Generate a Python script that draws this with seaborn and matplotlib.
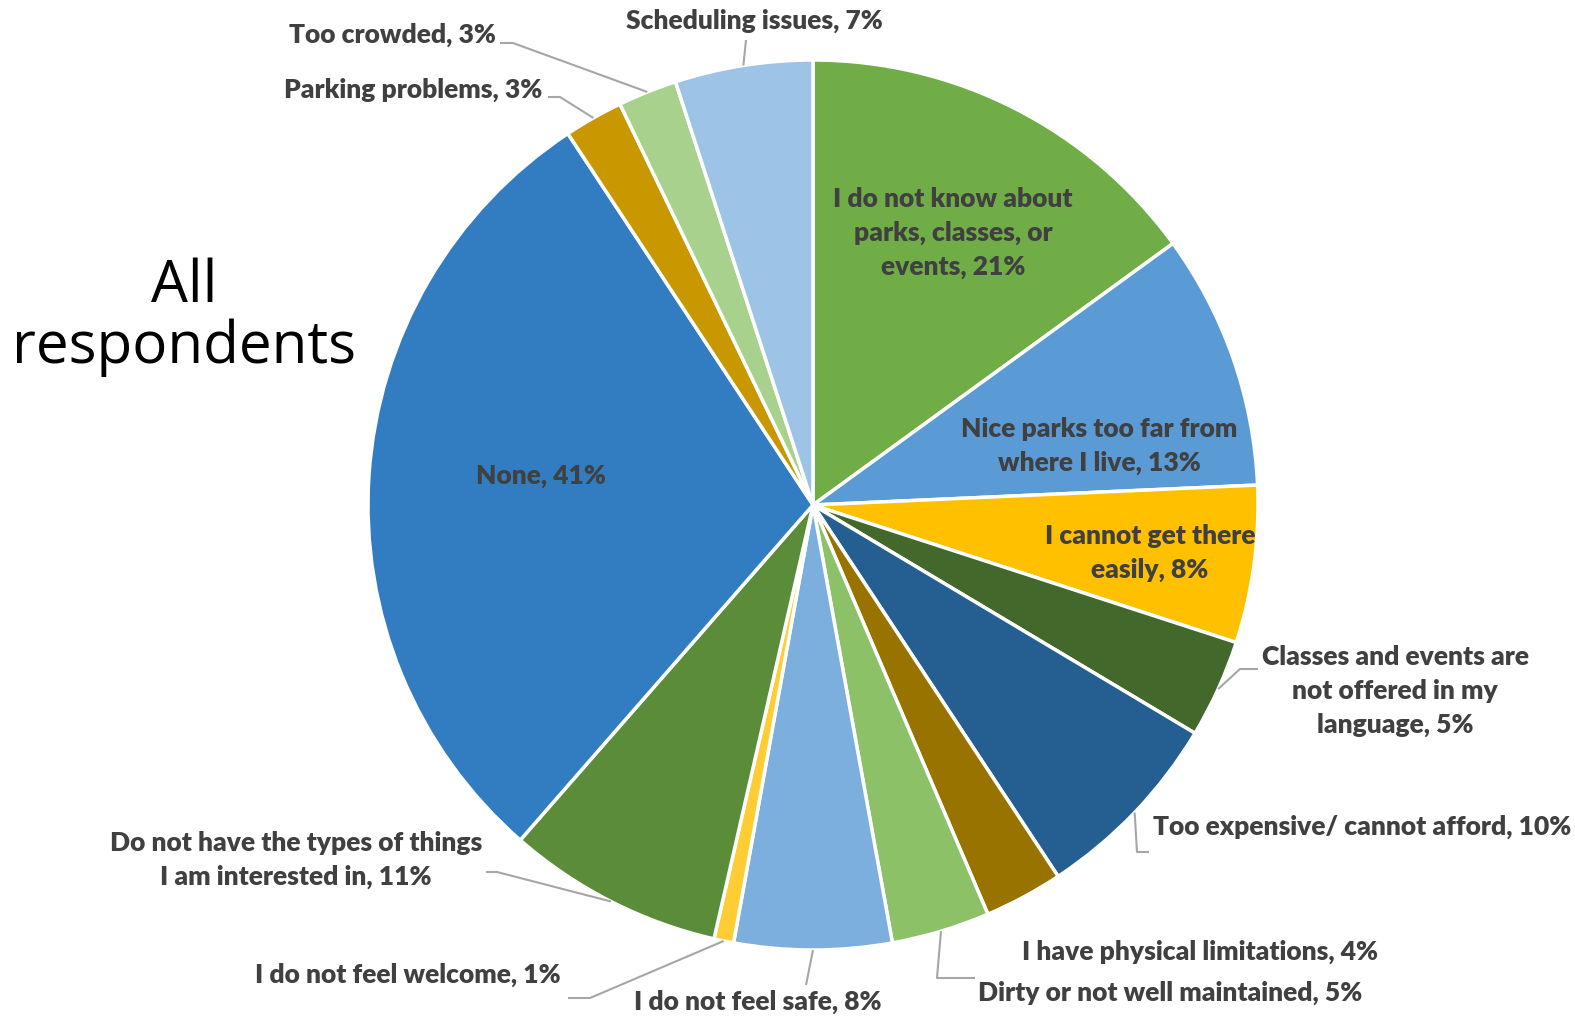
import numpy as np
import matplotlib
matplotlib.use("Agg")
import matplotlib.pyplot as plt
import seaborn as sns

# survey data (multi-select, so slices are relative shares of all mentions)
labels = ["I do not know about\nparks, classes, or\nevents, 21%",
          "Nice parks too far from\nwhere I live, 13%",
          "I cannot get there\neasily, 8%",
          "Classes and events are\nnot offered in my\nlanguage, 5%",
          "Too expensive/ cannot afford, 10%",
          "I have physical limitations, 4%",
          "Dirty or not well maintained, 5%",
          "I do not feel safe, 8%",
          "I do not feel welcome, 1%",
          "Do not have the types of things\nI am interested in, 11%",
          "None, 41%",
          "Parking problems, 3%",
          "Too crowded, 3%",
          "Scheduling issues, 7%"]
values = [21, 13, 8, 5, 10, 4, 5, 8, 1, 11, 41, 3, 3, 7]
colors = ["#70AD47", "#5B9BD5", "#FFC000", "#43682B", "#255E91", "#997300",
          "#8CC168", "#7CAFDD", "#FFCD33", "#5B8C3A", "#327DC2", "#C99700",
          "#A9D18E", "#9DC3E6"]

W, H = 1575, 1021
CX, CY, R = 813, 505, 445

sns.set_theme(style="white")
plt.rcParams["font.family"] = ["Lato", "DejaVu Sans"]

fig = plt.figure(figsize=(W / 100, H / 100), dpi=100)
ax = fig.add_axes([0, 0, 1, 1])

wedges, _ = ax.pie(values, colors=colors, startangle=90, counterclock=False,
                   center=(CX, H - CY), radius=R,
                   wedgeprops=dict(edgecolor="white", linewidth=2.5))
ax.set_xlim(0, W)
ax.set_ylim(0, H)
ax.set_aspect("equal")
ax.axis("off")

txt = dict(color="#404040", fontsize=19, fontweight="heavy",
           linespacing=1.5)
lc = "#A6A6A6"

# label position (pixel, from top), alignment, leader path after the wedge point
place = [
    ((953, 233), "center", None),
    ((1099, 446), "center", None),
    ((1150, 553), "center", None),
    ((1395, 691), "center", [(1240, 669), (1258, 669)]),
    ((1153, 827), "left", [(1137, 852), (1149, 852)]),
    ((1200, 952), "center", None),
    ((1170, 993), "center", [(937, 978), (975, 978)]),
    ((758, 1002), "center", [(806, 985)]),
    ((408, 975), "center", [(590, 998), (568, 998)]),
    ((296, 860), "center", [(497, 872), (486, 872)]),
    ((541, 476), "center", None),
    ((413, 90), "center", [(560, 97), (548, 97)]),
    ((392, 35), "center", [(513, 43), (500, 43)]),
    ((754, 21), "center", [(746, 40)]),
]

for w, lab, (pos, ha, path) in zip(wedges, labels, place):
    ax.text(pos[0], H - pos[1], lab, ha=ha, va="center", **txt)
    if path:
        mid = np.deg2rad((w.theta1 + w.theta2) / 2)
        sx = CX + R * np.cos(mid)
        sy = (H - CY) + R * np.sin(mid)
        xs = [sx] + [p[0] for p in path]
        ys = [sy] + [H - p[1] for p in path]
        ax.plot(xs, ys, color=lc, lw=1.5, solid_capstyle="butt")

ax.text(184, H - 317, "All\nrespondents", ha="center", va="center",
        fontsize=42, color="black", family=["Open Sans", "DejaVu Sans"],
        linespacing=1.05)

fig.savefig("out.png", dpi=100)
